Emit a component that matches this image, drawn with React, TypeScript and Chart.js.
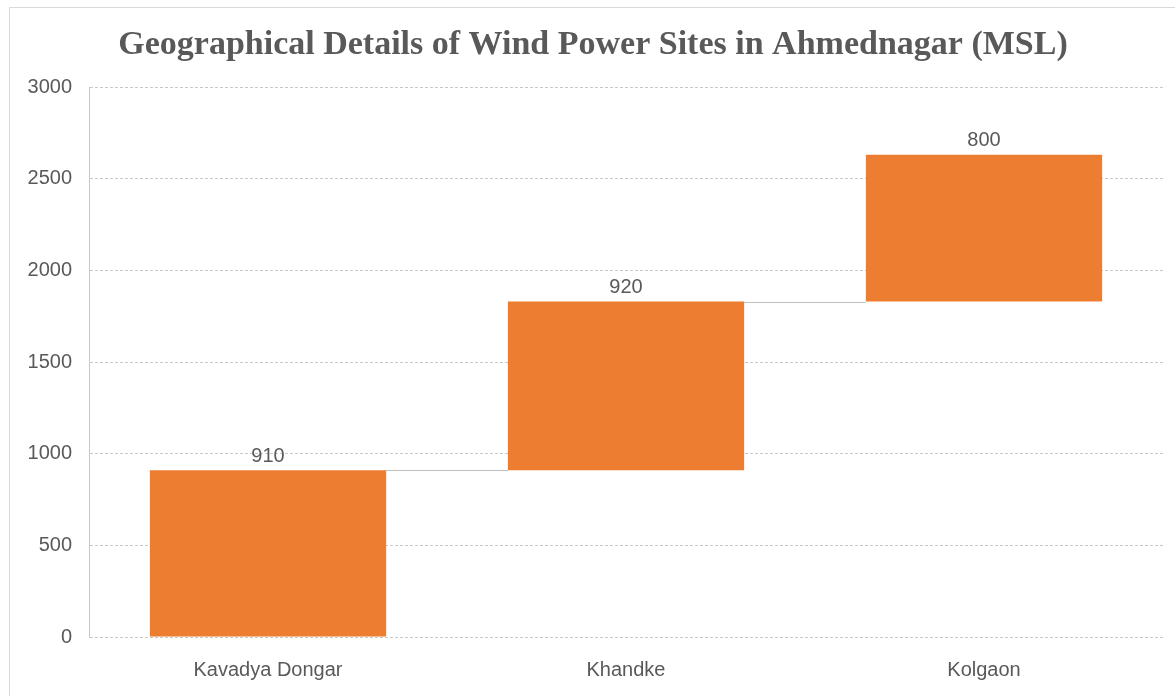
import React, { useEffect, useRef } from "react";
import { Chart, registerables } from "chart.js";

Chart.register(...registerables);

const categories = ["Kavadya Dongar", "Khandke", "Kolgaon"];
const heights = [910, 920, 800];
const yTicks = [0, 500, 1000, 1500, 2000, 2500, 3000];
const titleText = "Geographical Details of Wind Power Sites in Ahmednagar (MSL)";

const TEXT = "#595959";
const BAR = "#ED7D31";
const GRID = "#c8c8c8";

export default function App() {
  const ref = useRef<HTMLCanvasElement>(null);

  useEffect(() => {
    document.body.style.margin = "0";
    const floating: [number, number][] = [];
    let acc = 0;
    for (const h of heights) {
      floating.push([acc, acc + h]);
      acc += h;
    }

    const extras = {
      id: "extras",
      beforeDraw(chart: any) {
        const ctx = chart.ctx;
        ctx.save();
        ctx.fillStyle = "#ffffff";
        ctx.fillRect(0, 0, chart.width, chart.height);
        ctx.strokeStyle = "#d9d9d9";
        ctx.lineWidth = 1;
        ctx.beginPath();
        ctx.moveTo(9.5, chart.height);
        ctx.lineTo(9.5, 7.5);
        ctx.lineTo(chart.width, 7.5);
        ctx.stroke();
        ctx.fillStyle = TEXT;
        ctx.font = "bold 34px 'Liberation Serif'";
        ctx.textAlign = "center";
        ctx.textBaseline = "middle";
        ctx.fillText(titleText, 593, 45);
        ctx.restore();
      },
      afterDatasetsDraw(chart: any) {
        const ctx = chart.ctx;
        const meta = chart.getDatasetMeta(0);
        const y = chart.scales.y;
        ctx.save();
        ctx.strokeStyle = "#bfbfbf";
        ctx.lineWidth = 1;
        for (let i = 0; i < meta.data.length - 1; i++) {
          const a = meta.data[i] as any;
          const b = meta.data[i + 1] as any;
          const yy = Math.round(y.getPixelForValue(floating[i][1])) + 0.5;
          ctx.beginPath();
          ctx.moveTo(a.x + a.width / 2, yy);
          ctx.lineTo(b.x - b.width / 2, yy);
          ctx.stroke();
        }
        ctx.fillStyle = TEXT;
        ctx.font = "20px 'Liberation Sans'";
        ctx.textAlign = "center";
        ctx.textBaseline = "bottom";
        meta.data.forEach((el: any, i: number) => {
          const top = y.getPixelForValue(floating[i][1]);
          ctx.fillText(String(heights[i]), el.x, top - 4);
        });
        ctx.restore();
      },
    };

    const chart = new Chart(ref.current!, {
      type: "bar",
      data: {
        labels: categories,
        datasets: [
          {
            data: floating as any,
            backgroundColor: BAR,
            borderWidth: 0,
            categoryPercentage: 1,
            barPercentage: 0.66,
          },
        ],
      },
      options: {
        responsive: false,
        animation: false,
        layout: { padding: { top: 87, right: 12, bottom: 0, left: 0 } },
        plugins: {
          legend: { display: false },
          title: { display: false },
          tooltip: { enabled: false },
        },
        scales: {
          x: {
            grid: { display: false, drawTicks: false },
            border: { display: false },
            ticks: {
              color: TEXT,
              font: { family: "'Liberation Sans'", size: 20 },
              padding: 21,
            },
            afterFit(scale: any) {
              scale.height = 59;
            },
          },
          y: {
            min: 0,
            max: 3000,
            afterBuildTicks(scale: any) {
              scale.ticks = yTicks.map((v) => ({ value: v }));
            },
            grid: { color: GRID, drawTicks: false },
            border: { display: true, dash: [3, 2], color: GRID },
            ticks: {
              color: TEXT,
              font: { family: "'Liberation Sans'", size: 20 },
              padding: 17,
              callback: (v: any) => String(v),
            },
            afterFit(scale: any) {
              scale.width = 89;
            },
          },
        },
      },
      plugins: [extras],
    });
    (chart.options.scales as any).y.grid.borderDash = [3, 2];
    chart.update();

    return () => chart.destroy();
  }, []);

  return (
    <div style={{ position: "fixed", left: 0, top: 0, width: 1175, height: 696 }}>
      <canvas ref={ref} width={1175} height={696} />
    </div>
  );
}
